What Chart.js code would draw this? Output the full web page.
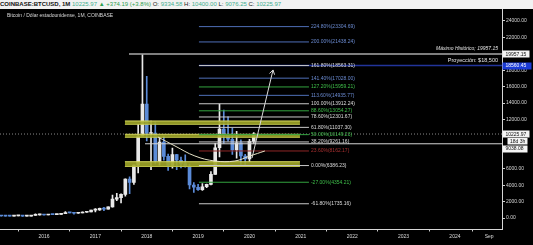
<!DOCTYPE html>
<html>
<head>
<meta charset="utf-8">
<script src="https://cdn.jsdelivr.net/npm/chart.js@4.4.1/dist/chart.umd.min.js"></script>
<style>
  html, body { margin: 0; padding: 0; background: #000; }
  #wrap { position: relative; width: 533px; height: 245px; overflow: hidden; background: #000; }
  #hdr {
    position: absolute; left: 0; top: 0; width: 533px; height: 9px;
    background: #f2f2f2; color: #222; white-space: nowrap;
    font: 6px 'Liberation Sans', Arial, sans-serif; line-height: 9px; z-index: 2;
  }
  #hdr b { color: #111; }
  #hdr .v { color: #3fae8f; }
  #hdr .g { color: #2e9e4f; }
  canvas { position: absolute; left: 0; top: 0; }
</style>
</head>
<body>
<div id="wrap">
  <div id="hdr"><b>COINBASE:BTCUSD, 1M</b> <span class="v">10225.97</span> <span class="g">▲ +374.19 (+3.8%)</span> O: <span class="v">9334.58</span> H: <span class="v">10400.00</span> L: <span class="v">9076.25</span> C: <span class="v">10225.97</span></div>
  <canvas id="chart" width="533" height="245"></canvas>
</div>
<script>
// monthly candles, index 0 = Jan 2015 ... index 61 = Feb 2020
const opens = [
  318, 218, 254, 244, 236, 230, 263, 284, 230, 236, 314, 377,
  430, 369, 437, 416, 448, 531, 673, 624, 575, 609, 700, 742,
  963, 970, 1190, 1080, 1350, 2300, 2480, 2875, 4740, 4340, 6440, 9950,
  13880, 10285, 10330, 6925, 9245, 7495, 6390, 7730, 7030, 6625, 6315, 4020,
  3740, 3440, 3810, 4100, 5320, 8555, 10820, 10085, 9590, 8295, 9150, 7545,
  7195, 9334.58
];
const highs = [
  320, 265, 300, 260, 247, 267, 317, 285, 246, 334, 500, 468,
  462, 448, 440, 468, 550, 780, 705, 625, 630, 740, 753, 975,
  1150, 1200, 1300, 1360, 2790, 3000, 2930, 4780, 5000, 6470, 11400, 19891.99,
  17250, 11790, 11700, 9770, 9990, 7775, 8500, 7750, 7410, 7680, 6570, 4320,
  4110, 4200, 4140, 5640, 9100, 13880, 13150, 12330, 10950, 10540, 9520, 7750,
  9580, 10400
];
const lows = [
  170, 212, 235, 214, 228, 221, 254, 198, 225, 236, 300, 350,
  354, 366, 395, 413, 436, 525, 605, 470, 570, 605, 680, 740,
  750, 920, 890, 1080, 1330, 2100, 1830, 2670, 2970, 4100, 5500, 10400,
  9400, 5873, 6600, 6430, 7030, 5780, 6070, 5880, 6110, 6180, 3550, 3130,
  3350, 3370, 3700, 4040, 5320, 7440, 9080, 9350, 7730, 7300, 6520, 6425,
  6870, 9076.25
];
const closes = [
  218, 254, 244, 236, 230, 263, 284, 230, 236, 314, 377, 430,
  369, 437, 416, 448, 531, 673, 624, 575, 609, 700, 742, 963,
  970, 1190, 1080, 1350, 2300, 2480, 2875, 4740, 4340, 6440, 9950, 13880,
  10285, 10330, 6925, 9245, 7495, 6390, 7730, 7030, 6625, 6315, 4020, 3740,
  3440, 3810, 4100, 5320, 8555, 10820, 10085, 9590, 8295, 9150, 7545, 7195,
  9334.58, 10225.97
];

// time axis (x in months since Jan 2015)
const xTickMonths = [12, 24, 36, 48, 60, 72, 84, 96, 108, 116];
const xTickLabels = ['2016', '2017', '2018', '2019', '2020', '2021', '2022', '2023', '2024', 'Sep'];
const yTickValues = [0, 2000, 4000, 6000, 12000, 14000, 16000, 18000, 22000, 24000];

// fibonacci extension levels
const fibPct = ['224.80%', '200.00%', '161.80%', '141.40%', '127.20%', '113.60%', '100.00%', '88.60%',
  '78.60%', '61.80%', '50.00%', '38.20%', '23.60%', '0.00%', '-27.00%', '-61.80%'];
const fibPrice = [23304.69, 21438.24, 18563.31, 17028.00, 15959.21, 14935.77, 13912.24, 13054.27,
  12301.67, 11037.30, 10149.23, 9261.16, 8162.17, 6386.23, 4354.21, 1735.16];
const fibKind = ['b', 'b', 'w', 'b', 'g', 'b', 'w', 'g', 'w', 'w', 'g', 'w', 'r', 'w', 'g', 'w'];
const fibStart = 48.2, fibEnd = 73.9;

// support / resistance zones
const zoneTop = [11815, 10195, 6857];
const zoneBottom = [11413, 9830, 6273];
const zoneStart = 30.9, zoneEnd = 71.8;

// drawn levels
const athPrice = 19957.15, athStart = 31.85;
const projPrice = 18560.45;
const lastPrice = 10225.97;
const supportPrice = 9038.08, supportStart = 35.6;

// rounded bottom arc and projection arrow
const arcX = [38.6, 42.6, 47.25, 51.9, 56.6, 60.1, 63.6];
const arcY = [9866, 8770, 7552, 6943, 6943, 7552, 8161];
const arrowX = [60.6, 65.5];
const arrowY = [7308, 18027];

const xMin = 1.72, xMax = 119.0;
const yMin = -1400, yMax = 25450;

const UP = '#e9e9e9';
const DOWN = '#5b8bd8';
const FIBCOL = { b: '#4f6fb8', w: '#c9c9c9', g: '#33a33f', r: '#8e2626' };
const FONT = "'Liberation Sans', Arial, sans-serif";

const candleColors = closes.map((c, i) => c >= opens[i] ? UP : DOWN);

const datasets = [];

// candle wicks
datasets.push({
  type: 'bar',
  data: highs.map((h, i) => ({ x: i, y: [lows[i], h] })),
  backgroundColor: candleColors,
  barThickness: 1,
  grouped: false,
  order: 21,
});
// candle bodies
datasets.push({
  type: 'bar',
  data: opens.map((o, i) => ({ x: i, y: [Math.min(o, closes[i]), Math.max(o, closes[i])] })),
  backgroundColor: candleColors,
  barThickness: 3,
  minBarLength: 1,
  grouped: false,
  order: 20,
});

const hline = (x0, x1, y, color, width, extra) => Object.assign({
  type: 'line',
  data: [{ x: x0, y: y }, { x: x1, y: y }],
  borderColor: color,
  borderWidth: width,
  pointRadius: 0,
  fill: false,
  order: 5,
}, extra || {});

// current price dotted line
datasets.push(hline(xMin, xMax, lastPrice, '#8a8a8a', 1, { borderDash: [1, 2], order: 15 }));

// zones (top edge fills down to the bottom edge)
zoneTop.forEach((t, i) => {
  datasets.push(hline(zoneStart, zoneEnd, t, '#d2d45c', 1, { fill: '+1', backgroundColor: 'rgba(160,166,40,0.9)', order: 12 }));
  datasets.push(hline(zoneStart, zoneEnd, zoneBottom[i], '#d2d45c', 1, { order: 12 }));
});

// projection line
datasets.push(hline(fibStart, xMax, projPrice, '#22349a', 1.5, { order: 9 }));

// fib levels
fibPrice.forEach((p, i) => {
  datasets.push(hline(fibStart, fibEnd, p, FIBCOL[fibKind[i]], 1, { order: 8 }));
});

// ATH and support lines
datasets.push(hline(athStart, xMax, athPrice, '#a9a9a9', 1.5, { order: 7 }));
datasets.push(hline(supportStart, xMax, supportPrice, '#d4d4d4', 1, { order: 7 }));

// arc
datasets.push({
  type: 'line',
  data: arcX.map((x, i) => ({ x: x, y: arcY[i] })),
  borderColor: '#e6e2c6',
  borderWidth: 1,
  tension: 0.4,
  pointRadius: 0,
  fill: false,
  order: 4,
});
// arrow shaft
datasets.push({
  type: 'line',
  data: arrowX.map((x, i) => ({ x: x, y: arrowY[i] })),
  borderColor: '#dadada',
  borderWidth: 1,
  pointRadius: 0,
  fill: false,
  order: 4,
});

// boxes on the price axis
function axisBox(ctx, left, y, text, bg, fg, w) {
  ctx.fillStyle = bg;
  ctx.fillRect(left, Math.round(y) - 3.5, w, 7);
  ctx.fillStyle = fg;
  ctx.textAlign = 'left';
  ctx.textBaseline = 'middle';
  ctx.fillText(text, left + 3, y + 0.3);
}

const overlay = {
  id: 'overlay',
  afterDatasetsDraw(chart) {
    const ctx = chart.ctx;
    const xs = chart.scales.x, ys = chart.scales.y;
    const area = chart.chartArea;
    ctx.save();
    ctx.font = '5px ' + FONT;
    ctx.textBaseline = 'middle';
    ctx.textAlign = 'left';

    // fib labels
    const lx = xs.getPixelForValue(fibEnd) + 2;
    fibPrice.forEach((p, i) => {
      ctx.fillStyle = FIBCOL[fibKind[i]] === '#c9c9c9' ? '#dcdcdc' : FIBCOL[fibKind[i]];
      if (fibKind[i] === 'b') ctx.fillStyle = '#6a8ad0';
      if (fibKind[i] === 'g') ctx.fillStyle = '#3fbf4a';
      if (fibKind[i] === 'r') ctx.fillStyle = '#a83030';
      ctx.fillText(fibPct[i] + '(' + p.toFixed(2) + ')', lx, ys.getPixelForValue(p));
    });

    // text labels
    ctx.textAlign = 'right';
    ctx.fillStyle = '#e6e6e6';
    ctx.font = 'italic 5px ' + FONT;
    ctx.fillText('Máximo Histórico; 19957.15', area.right - 4, ys.getPixelForValue(athPrice) - 5);
    ctx.font = '5.5px ' + FONT;
    ctx.fillText('Proyección: $18,500', area.right - 4, ys.getPixelForValue(projPrice) - 5);

    // arrow head
    const tx = xs.getPixelForValue(arrowX[1]), ty = ys.getPixelForValue(arrowY[1]);
    const sx = xs.getPixelForValue(arrowX[0]), sy = ys.getPixelForValue(arrowY[0]);
    const ang = Math.atan2(ty - sy, tx - sx);
    ctx.strokeStyle = '#dadada';
    ctx.lineWidth = 1;
    ctx.beginPath();
    ctx.moveTo(tx - 5 * Math.cos(ang - 0.55), ty - 5 * Math.sin(ang - 0.55));
    ctx.lineTo(tx, ty);
    ctx.lineTo(tx - 5 * Math.cos(ang + 0.55), ty - 5 * Math.sin(ang + 0.55));
    ctx.stroke();

    // chart title
    ctx.textAlign = 'left';
    ctx.font = '5px ' + FONT;
    ctx.fillStyle = '#d8d8d8';
    ctx.fillText('Bitcoin / Dólar estadounidense, 1M, COINBASE', 7, 15.5);
    ctx.restore();
  },
  afterDraw(chart) {
    const ctx = chart.ctx;
    const ys = chart.scales.y;
    const left = chart.chartArea.right + 0.5;
    ctx.save();
    ctx.font = '5px ' + FONT;
    axisBox(ctx, left, ys.getPixelForValue(athPrice), '19957.15', '#f4f4f4', '#111', 27);
    axisBox(ctx, left, ys.getPixelForValue(projPrice), '18560.45', '#1b3bd6', '#fff', 29);
    const yl = ys.getPixelForValue(lastPrice);
    axisBox(ctx, left, yl, '10225.97', '#f4f4f4', '#111', 27);
    ctx.fillStyle = '#f4f4f4';
    ctx.fillRect(left + 5, Math.round(yl) + 4, 20, 6.5);
    ctx.fillStyle = '#111';
    ctx.textAlign = 'left';
    ctx.fillText('18d 3h', left + 7.5, Math.round(yl) + 7.5);
    axisBox(ctx, left, ys.getPixelForValue(supportPrice) + 5, '9038.08', '#f4f4f4', '#111', 25);
    ctx.restore();
  }
};

new Chart(document.getElementById('chart'), {
  type: 'bar',
  data: { datasets: datasets },
  options: {
    responsive: false,
    animation: false,
    devicePixelRatio: 1,
    layout: { padding: { top: 9, left: 0, right: 0, bottom: 0 } },
    plugins: { legend: { display: false }, tooltip: { enabled: false } },
    scales: {
      x: {
        type: 'linear',
        min: xMin,
        max: xMax,
        offset: false,
        afterBuildTicks: (scale) => { scale.ticks = xTickMonths.map(v => ({ value: v })); },
        afterFit: (scale) => { scale.height = 15.5; },
        ticks: {
          autoSkip: false,
          maxRotation: 0,
          padding: 2,
          color: '#dcdcdc',
          font: { size: 5, family: FONT },
          callback: (v, i) => xTickLabels[i],
        },
        grid: { display: true, drawOnChartArea: false, drawTicks: true, tickLength: 2, color: '#cfcfcf' },
        border: { display: true, color: '#d6d6d6', width: 1 },
      },
      y: {
        type: 'linear',
        position: 'right',
        min: yMin,
        max: yMax,
        afterBuildTicks: (scale) => { scale.ticks = yTickValues.map(v => ({ value: v })); },
        afterFit: (scale) => { scale.width = 31; },
        ticks: {
          autoSkip: false,
          padding: 1,
          color: '#d6d6d6',
          font: { size: 5, family: FONT },
          callback: (v) => Number(v).toFixed(2),
        },
        grid: { display: true, drawOnChartArea: false, drawTicks: true, tickLength: 3, color: '#cfcfcf' },
        border: { display: true, color: '#d6d6d6', width: 1 },
      },
    },
  },
  plugins: [overlay],
});
</script>
</body>
</html>
